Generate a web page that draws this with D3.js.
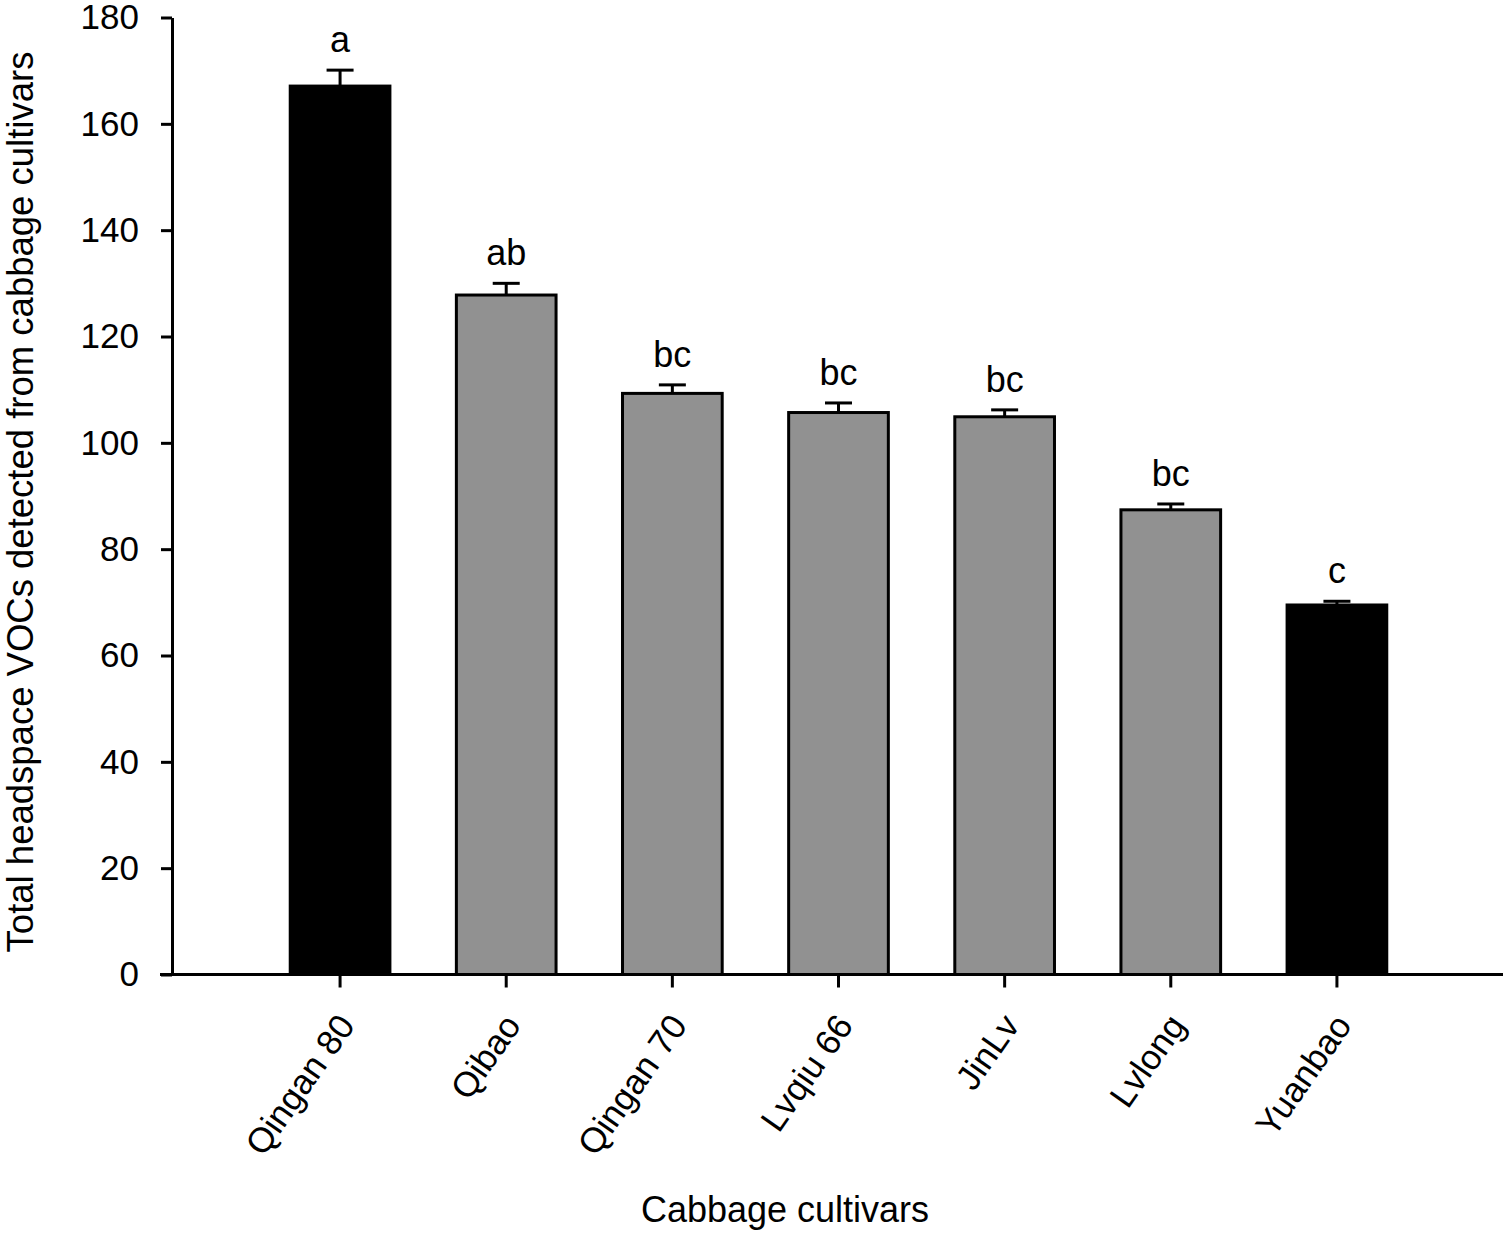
<!DOCTYPE html>
<html lang="en">
<head>
    <meta charset="UTF-8">
    <title>Total headspace VOCs</title>
    <script src="https://d3js.org/d3.v7.min.js"></script>
    <style>
        body { margin: 0; background: #fff; }
        text { font-family: "Liberation Sans", Arial, Helvetica, sans-serif; fill: #000; }
    </style>
</head>
<body>
    <div id="chart"></div>
    <script>

// data
const cultivars = ["Qingan 80", "Qibao", "Qingan 70", "Lvqiu 66", "JinLv", "Lvlong", "Yuanbao"];
const totals = [167.1, 127.8, 109.3, 105.7, 104.9, 87.4, 69.5];
const errors = [3.0, 2.2, 1.6, 1.8, 1.3, 1.1, 0.7];
const letters = ["a", "ab", "bc", "bc", "bc", "bc", "c"];
const blackBars = ["Qingan 80", "Yuanbao"];
const yTicks = [0, 20, 40, 60, 80, 100, 120, 140, 160, 180];

const data = cultivars.map((c, i) => ({
    name: c, value: totals[i], err: errors[i], letter: letters[i]
}));

const W = 1508, H = 1235;
const axisLeftX = 172, axisRightX = 1503;

const svg = d3.select("#chart")
    .append("svg")
    .attr("width", W)
    .attr("height", H);

const x = d3.scaleBand()
    .domain(cultivars)
    .range([257, 1420])
    .paddingInner(0.4)
    .paddingOuter(0.2);

const y = d3.scaleLinear()
    .domain([0, 180])
    .range([974.5, 17.5]);

// bars
svg.append("g")
    .selectAll("rect")
    .data(data)
    .join("rect")
    .attr("x", d => x(d.name))
    .attr("y", d => y(d.value))
    .attr("width", x.bandwidth())
    .attr("height", d => y(0) - y(d.value))
    .attr("fill", d => blackBars.includes(d.name) ? "#000" : "#919191")
    .attr("stroke", "#000")
    .attr("stroke-width", 3);

// error bars (upper only)
const cap = 27;
const eb = svg.append("g")
    .attr("stroke", "#000")
    .attr("stroke-width", 3)
    .selectAll("g")
    .data(data)
    .join("g");

eb.append("line")
    .attr("x1", d => x(d.name) + x.bandwidth() / 2)
    .attr("x2", d => x(d.name) + x.bandwidth() / 2)
    .attr("y1", d => y(d.value))
    .attr("y2", d => y(d.value + d.err));

eb.append("line")
    .attr("x1", d => x(d.name) + x.bandwidth() / 2 - cap / 2)
    .attr("x2", d => x(d.name) + x.bandwidth() / 2 + cap / 2)
    .attr("y1", d => y(d.value + d.err))
    .attr("y2", d => y(d.value + d.err));

// significance letters
svg.append("g")
    .selectAll("text")
    .data(data)
    .join("text")
    .attr("x", d => x(d.name) + x.bandwidth() / 2)
    .attr("y", d => y(d.value + d.err) - 18)
    .attr("text-anchor", "middle")
    .style("font-size", "36px")
    .text(d => d.letter);

// y axis
const yAxis = svg.append("g")
    .attr("transform", `translate(${axisLeftX},0)`)
    .call(d3.axisLeft(y).tickValues(yTicks).tickSize(11).tickSizeOuter(0).tickPadding(22));
yAxis.select(".domain").attr("stroke-width", 3);
yAxis.selectAll(".tick line").attr("stroke-width", 3);
yAxis.selectAll(".tick text")
    .style("font-size", "35px")
    .attr("font-family", null);

// x axis
const xAxis = svg.append("g")
    .attr("transform", `translate(0,${y(0)})`)
    .call(d3.axisBottom(x).tickSize(13).tickSizeOuter(0));
xAxis.select(".domain").remove();
xAxis.append("line")
    .attr("x1", axisLeftX - 12)
    .attr("x2", axisRightX)
    .attr("stroke", "#000")
    .attr("stroke-width", 3);
xAxis.selectAll(".tick line").attr("stroke-width", 3);
xAxis.selectAll(".tick text")
    .attr("font-family", null)
    .style("font-size", "35px")
    .attr("text-anchor", "end")
    .attr("x", 0)
    .attr("y", 0)
    .attr("dy", "0.35em")
    .attr("transform", "translate(6,44) rotate(-55)");

// axis titles
svg.append("text")
    .attr("x", 785)
    .attr("y", 1222)
    .attr("text-anchor", "middle")
    .style("font-size", "36px")
    .text("Cabbage cultivars");

svg.append("text")
    .attr("transform", "translate(33,502) rotate(-90)")
    .attr("text-anchor", "middle")
    .style("font-size", "36.5px")
    .text("Total headspace VOCs detected from cabbage cultivars");

    </script>
</body>
</html>
